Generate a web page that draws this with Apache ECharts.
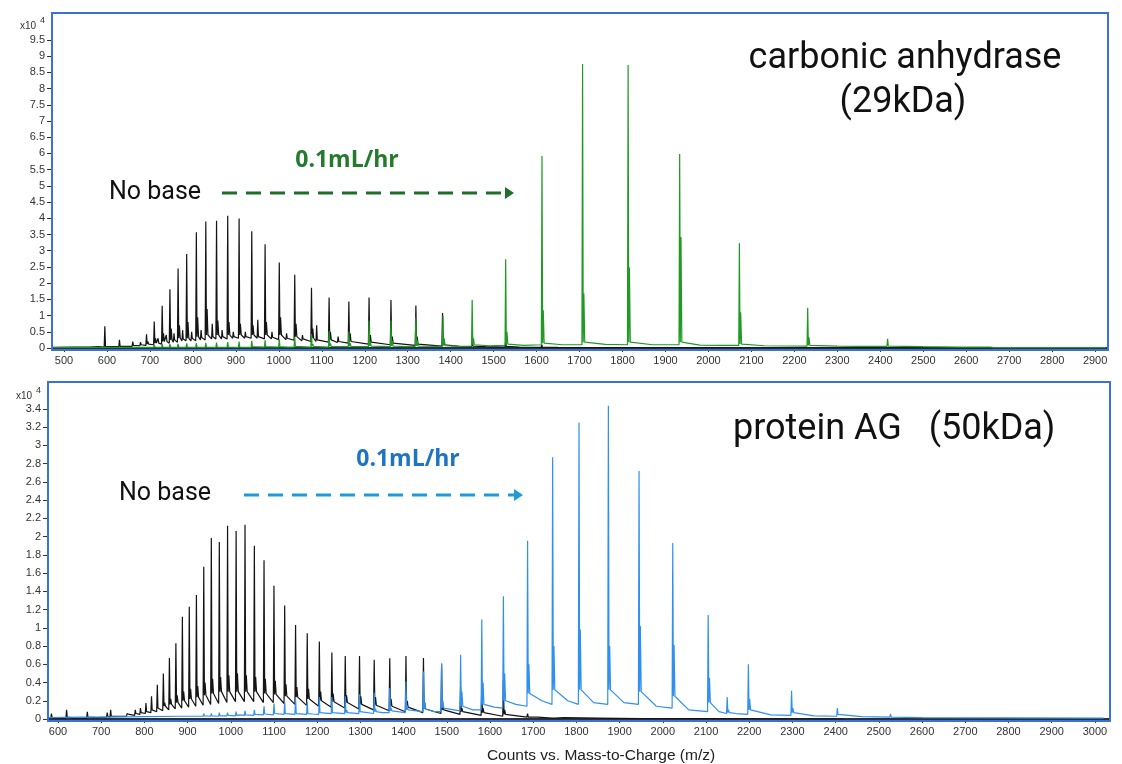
<!DOCTYPE html>
<html>
<head>
<meta charset="utf-8">
<script src="https://cdn.jsdelivr.net/npm/echarts@6/dist/echarts.min.js"></script>
<style>
  html, body { margin: 0; padding: 0; background: #ffffff; }
  #chart { width: 1122px; height: 764px; }
</style>
</head>
<body>
<div id="chart"></div>
<script>
// Intensities are in units of 10^4 counts.
// Peak rows: [m/z, apex, adduct spike, level just before, level just after]

// Carbonic anhydrase (29 kDa), no base
const caNoBasePeaks = [
  [595, 0.67, 0.08, 0.03, 0.05],
  [629, 0.25, 0.08, 0.04, 0.05],
  [660, 0.20, 0.10, 0.05, 0.08],
  [678, 0.18, 0.10, 0.07, 0.10],
  [692, 0.42, 0.20, 0.08, 0.12],
  [710, 0.82, 0.30, 0.10, 0.15],
  [719, 0.30, 0.20, 0.12, 0.15],
  [728.5, 1.30, 0.45, 0.12, 0.20],
  [738, 0.40, 0.25, 0.15, 0.20],
  [746.5, 1.81, 0.60, 0.15, 0.25],
  [756, 0.45, 0.30, 0.18, 0.25],
  [765.5, 2.45, 0.70, 0.18, 0.30],
  [776, 0.55, 0.30, 0.22, 0.28],
  [785.5, 2.90, 0.80, 0.22, 0.30],
  [797, 0.50, 0.35, 0.22, 0.30],
  [808, 3.57, 0.95, 0.22, 0.35],
  [819, 0.55, 0.35, 0.25, 0.32],
  [830, 3.90, 1.20, 0.25, 0.40],
  [845, 0.75, 0.40, 0.28, 0.35],
  [855, 3.92, 0.85, 0.28, 0.40],
  [868, 0.55, 0.35, 0.28, 0.35],
  [881, 4.08, 0.80, 0.28, 0.40],
  [894, 0.50, 0.35, 0.30, 0.35],
  [907.5, 3.99, 0.75, 0.30, 0.40],
  [922, 0.50, 0.35, 0.30, 0.35],
  [937, 3.60, 0.70, 0.30, 0.40],
  [951, 0.87, 0.35, 0.30, 0.35],
  [968, 3.20, 0.80, 0.28, 0.40],
  [984, 0.50, 0.35, 0.28, 0.33],
  [1001, 2.64, 0.95, 0.26, 0.40],
  [1018, 0.45, 0.32, 0.26, 0.30],
  [1037, 2.26, 0.75, 0.24, 0.35],
  [1055, 0.40, 0.30, 0.22, 0.28],
  [1076, 1.86, 0.60, 0.20, 0.30],
  [1088, 0.70, 0.30, 0.20, 0.25],
  [1117, 1.56, 0.50, 0.18, 0.25],
  [1138, 0.35, 0.25, 0.17, 0.20],
  [1163, 1.43, 0.45, 0.15, 0.20],
  [1210, 1.56, 0.40, 0.12, 0.18],
  [1261, 1.48, 0.35, 0.10, 0.15],
  [1319, 1.31, 0.35, 0.08, 0.12],
  [1381, 1.08, 0.30, 0.06, 0.10],
  [1450, 0.25, 0.10, 0.04, 0.06],
  [1528, 0.18, 0.08, 0.03, 0.05],
  [1612, 0.10, 0.05, 0.02, 0.03]
];
const caNoBaseBaseline = [
  [474, 0.02], [520, 0.03], [560, 0.03], [580, 0.04], [612, 0.04], [645, 0.05],
  [1420, 0.05], [1480, 0.04], [1560, 0.03], [1650, 0.02], [1750, 0.01],
  [1900, 0.01], [2100, 0.005], [2400, 0.005], [2660, 0.005]
];

// Carbonic anhydrase (29 kDa), 0.1 mL/hr base
const caBasePeaks = [
  [710, 0.10, 0.05, 0.02, 0.03],
  [728.5, 0.12, 0.05, 0.02, 0.03],
  [746.5, 0.12, 0.05, 0.02, 0.03],
  [765.5, 0.13, 0.05, 0.02, 0.03],
  [785.5, 0.14, 0.05, 0.02, 0.03],
  [808, 0.15, 0.06, 0.02, 0.03],
  [830, 0.16, 0.06, 0.02, 0.03],
  [855, 0.17, 0.06, 0.02, 0.03],
  [881, 0.18, 0.06, 0.02, 0.03],
  [907.5, 0.20, 0.07, 0.02, 0.03],
  [937, 0.22, 0.07, 0.02, 0.04],
  [968, 0.24, 0.08, 0.03, 0.04],
  [1001, 0.27, 0.08, 0.03, 0.04],
  [1037, 0.33, 0.10, 0.03, 0.05],
  [1076, 0.43, 0.12, 0.03, 0.05],
  [1117, 0.52, 0.14, 0.03, 0.05],
  [1163, 0.50, 0.15, 0.04, 0.05],
  [1210, 0.85, 0.20, 0.04, 0.06],
  [1261, 0.85, 0.22, 0.04, 0.06],
  [1319, 0.95, 0.25, 0.05, 0.06],
  [1382, 1.00, 0.28, 0.05, 0.07],
  [1450, 1.49, 0.30, 0.06, 0.10],
  [1528, 2.74, 0.50, 0.08, 0.12],
  [1612.5, 5.92, 1.16, 0.10, 0.15],
  [1707, 8.76, 1.68, 0.10, 0.18],
  [1813, 8.73, 2.48, 0.10, 0.18],
  [1933, 5.98, 3.42, 0.10, 0.18],
  [2072, 3.23, 1.10, 0.08, 0.12],
  [2231, 1.24, 0.33, 0.06, 0.08],
  [2417, 0.28, 0.10, 0.05, 0.06],
  [2637, 0.05, 0.03, 0.03, 0.03]
];
const caBaseBaseline = [
  [474, 0.01], [600, 0.02], [700, 0.02], [1020, 0.03], [1300, 0.04], [1420, 0.05],
  [1490, 0.07], [1570, 0.08], [1660, 0.10], [1760, 0.11], [1870, 0.10],
  [1980, 0.09], [2030, 0.08], [2130, 0.07], [2300, 0.06], [2350, 0.05],
  [2500, 0.04], [2580, 0.03], [2655, 0.03], [2665, 0.01], [2925, 0.01]
];

// Protein AG (50 kDa), no base
const agNoBasePeaks = [
  [585, 0.06, 0.02, 0.01, 0.01],
  [620, 0.10, 0.03, 0.01, 0.02],
  [668, 0.08, 0.02, 0.01, 0.02],
  [714, 0.07, 0.03, 0.02, 0.03],
  [722, 0.10, 0.04, 0.02, 0.03],
  [760, 0.06, 0.04, 0.03, 0.05],
  [779, 0.10, 0.06, 0.04, 0.06],
  [791, 0.12, 0.07, 0.05, 0.07],
  [803.7, 0.175, 0.09, 0.06, 0.08],
  [816.6, 0.25, 0.11, 0.07, 0.10],
  [830, 0.376, 0.14, 0.08, 0.12],
  [844, 0.50, 0.18, 0.09, 0.14],
  [858, 0.67, 0.22, 0.10, 0.16],
  [873, 0.83, 0.26, 0.11, 0.18],
  [888, 1.12, 0.30, 0.12, 0.20],
  [904, 1.23, 0.33, 0.13, 0.22],
  [920.5, 1.36, 0.36, 0.14, 0.24],
  [937.5, 1.67, 0.40, 0.15, 0.26],
  [955, 1.985, 0.44, 0.16, 0.28],
  [973.5, 1.94, 0.46, 0.17, 0.30],
  [992.6, 2.12, 0.48, 0.18, 0.30],
  [1012.4, 2.06, 0.50, 0.19, 0.30],
  [1033, 2.13, 0.48, 0.19, 0.30],
  [1054.6, 1.90, 0.46, 0.19, 0.30],
  [1077, 1.74, 0.44, 0.18, 0.28],
  [1100, 1.46, 0.42, 0.18, 0.27],
  [1124.8, 1.245, 0.38, 0.17, 0.25],
  [1150, 1.03, 0.35, 0.16, 0.24],
  [1177, 0.94, 0.33, 0.15, 0.22],
  [1205, 0.85, 0.30, 0.14, 0.20],
  [1234, 0.73, 0.28, 0.13, 0.19],
  [1265, 0.69, 0.26, 0.12, 0.18],
  [1298, 0.69, 0.25, 0.11, 0.16],
  [1332, 0.65, 0.24, 0.10, 0.15],
  [1368, 0.665, 0.22, 0.09, 0.14],
  [1405.5, 0.69, 0.20, 0.08, 0.13],
  [1446, 0.67, 0.18, 0.07, 0.11],
  [1488, 0.60, 0.15, 0.06, 0.10],
  [1532, 0.35, 0.12, 0.05, 0.08],
  [1581, 0.36, 0.12, 0.04, 0.07],
  [1631, 0.43, 0.10, 0.03, 0.05],
  [1687, 0.06, 0.03, 0.02, 0.02],
  [1745, 0.02, 0.01, 0.01, 0.01]
];
const agNoBaseBaseline = [
  [578, 0.01], [600, 0.01], [640, 0.01], [690, 0.015], [740, 0.03],
  [1710, 0.02], [1770, 0.015], [1850, 0.01], [1950, 0.005], [2100, 0.005], [2420, 0.0]
];

// Protein AG (50 kDa), 0.1 mL/hr base
const agBasePeaks = [
  [937.5, 0.06, 0.04, 0.03, 0.035],
  [955, 0.06, 0.04, 0.03, 0.035],
  [973.5, 0.07, 0.04, 0.03, 0.035],
  [992.6, 0.07, 0.04, 0.035, 0.04],
  [1012.4, 0.08, 0.05, 0.035, 0.04],
  [1033, 0.09, 0.05, 0.04, 0.045],
  [1054.6, 0.10, 0.05, 0.04, 0.05],
  [1077, 0.14, 0.06, 0.045, 0.055],
  [1100, 0.17, 0.07, 0.045, 0.06],
  [1124.8, 0.19, 0.08, 0.05, 0.06],
  [1150, 0.22, 0.08, 0.05, 0.06],
  [1177, 0.19, 0.08, 0.05, 0.06],
  [1205, 0.24, 0.09, 0.05, 0.07],
  [1234, 0.24, 0.09, 0.06, 0.07],
  [1265, 0.25, 0.10, 0.06, 0.07],
  [1298, 0.27, 0.10, 0.06, 0.08],
  [1332, 0.29, 0.11, 0.06, 0.08],
  [1368, 0.34, 0.12, 0.07, 0.09],
  [1405.5, 0.41, 0.15, 0.07, 0.10],
  [1446, 0.52, 0.18, 0.08, 0.11],
  [1488, 0.61, 0.20, 0.08, 0.12],
  [1532, 0.705, 0.30, 0.09, 0.14],
  [1581, 1.09, 0.40, 0.10, 0.16],
  [1631, 1.345, 0.50, 0.12, 0.20],
  [1687, 1.955, 0.60, 0.14, 0.28],
  [1745, 2.87, 0.80, 0.16, 0.32],
  [1806, 3.25, 0.98, 0.16, 0.32],
  [1874, 3.435, 0.80, 0.16, 0.32],
  [1945, 2.72, 1.02, 0.16, 0.30],
  [2023, 1.93, 0.81, 0.12, 0.25],
  [2105, 1.14, 0.45, 0.08, 0.18],
  [2149, 0.24, 0.10, 0.06, 0.07],
  [2198, 0.60, 0.22, 0.05, 0.10],
  [2298, 0.31, 0.12, 0.04, 0.07],
  [2404, 0.12, 0.06, 0.03, 0.05],
  [2527, 0.055, 0.03, 0.02, 0.02]
];
const agBaseBaseline = [
  [578, 0.015], [650, 0.02], [720, 0.02], [800, 0.025], [880, 0.03], [1020, 0.045],
  [1190, 0.055], [1350, 0.07], [1470, 0.08], [1560, 0.10], [1610, 0.13],
  [1660, 0.16], [1720, 0.20], [1780, 0.20], [1840, 0.18], [1910, 0.18],
  [1985, 0.14], [2060, 0.10], [2130, 0.08], [2170, 0.06], [2250, 0.045],
  [2350, 0.035], [2460, 0.025], [2600, 0.015], [2800, 0.012], [3020, 0.01]
];

// Axis tick values
const caTicksX = [500, 600, 700, 800, 900, 1000, 1100, 1200, 1300, 1400, 1500, 1600, 1700,
  1800, 1900, 2000, 2100, 2200, 2300, 2400, 2500, 2600, 2700, 2800, 2900];
const caTicksY = [0, 0.5, 1, 1.5, 2, 2.5, 3, 3.5, 4, 4.5, 5, 5.5, 6, 6.5, 7, 7.5, 8, 8.5, 9, 9.5];
const agTicksX = [600, 700, 800, 900, 1000, 1100, 1200, 1300, 1400, 1500, 1600, 1700, 1800,
  1900, 2000, 2100, 2200, 2300, 2400, 2500, 2600, 2700, 2800, 2900, 3000];
const agTicksY = [0, 0.2, 0.4, 0.6, 0.8, 1, 1.2, 1.4, 1.6, 1.8, 2, 2.2, 2.4, 2.6, 2.8, 3, 3.2, 3.4];

// Turn a peak table plus baseline readings into a profile trace.
function buildTrace(peaks, baseline) {
  const pts = [];
  peaks.forEach(([mz, apex, adduct, before, after]) => {
    pts.push([mz - 1.5, before], [mz, apex], [mz + 1.5, after], [mz + 3, adduct], [mz + 5, after]);
  });
  baseline.forEach(([mz, v]) => {
    const insidePeak = peaks.some(p => mz > p[0] - 3 && mz < p[0] + 7);
    if (!insidePeak) pts.push([mz, v]);
  });
  return pts.sort((a, b) => a[0] - b[0]);
}

const AXIS_FONT = 'Liberation Sans, Arial, sans-serif';
const TEXT_FONT = 'Roboto, sans-serif';

function xAxisFor(gridIndex, min, max, ticks) {
  return {
    gridIndex, type: 'value', min, max,
    axisLine: { show: true, onZero: false, lineStyle: { color: '#2e3038', width: 2 } },
    axisTick: { show: true, customValues: ticks, length: 4, lineStyle: { color: '#333' } },
    axisLabel: { customValues: ticks, fontSize: 11, color: '#333', margin: 7,
      fontFamily: AXIS_FONT, formatter: v => String(v) },
    splitLine: { show: false }
  };
}
function yAxisFor(gridIndex, max, ticks) {
  return {
    gridIndex, type: 'value', min: 0, max,
    axisLine: { show: true, lineStyle: { color: '#555a66', width: 1 } },
    axisTick: { show: true, customValues: ticks, length: 5, lineStyle: { color: '#333' } },
    axisLabel: { customValues: ticks, fontSize: 11, color: '#333', margin: 7,
      fontFamily: AXIS_FONT, formatter: v => String(v) },
    splitLine: { show: false }
  };
}
function lineSeries(name, idx, data, color) {
  return {
    name, type: 'line', xAxisIndex: idx, yAxisIndex: idx, data,
    showSymbol: false, symbol: 'none', animation: false, silent: true,
    lineStyle: { color, width: 1.2 }
  };
}
function label(text, x, y, size, color, opts = {}) {
  return {
    type: 'text', x, y, z: 100,
    style: {
      text, fill: color,
      font: (opts.weight || 'normal') + ' ' + size + 'px ' + (opts.family || TEXT_FONT),
      align: opts.align || 'left', verticalAlign: 'middle',
      textAlign: opts.align || 'left', textVerticalAlign: 'middle'
    }
  };
}
function dashedArrow(x1, x2, y, color) {
  return [
    { type: 'line', z: 100, shape: { x1, y1: y, x2: x2 - 8, y2: y },
      style: { stroke: color, lineWidth: 3, lineDash: [15, 9] } },
    { type: 'polygon', z: 100, shape: { points: [[x2 - 9, y - 6], [x2, y], [x2 - 9, y + 6]] },
      style: { fill: color } }
  ];
}

const chart = echarts.init(document.getElementById('chart'), null, { renderer: 'canvas' });
chart.setOption({
  backgroundColor: '#ffffff',
  animation: false,
  grid: [
    { left: 52, top: 13, width: 1056, height: 335, show: false },
    { left: 48, top: 382, width: 1062, height: 337, show: false }
  ],
  xAxis: [
    xAxisFor(0, 472, 2930, caTicksX),
    xAxisFor(1, 577, 3035, agTicksX)
  ],
  yAxis: [
    yAxisFor(0, 10.33, caTicksY),
    yAxisFor(1, 3.695, agTicksY)
  ],
  series: [
    lineSeries('No base', 0, buildTrace(caNoBasePeaks, caNoBaseBaseline), '#141414'),
    lineSeries('0.1mL/hr', 0, buildTrace(caBasePeaks, caBaseBaseline), '#209a24'),
    lineSeries('No base', 1, buildTrace(agNoBasePeaks, agNoBaseBaseline), '#141414'),
    lineSeries('0.1mL/hr', 1, buildTrace(agBasePeaks, agBaseBaseline), '#2f90f2')
  ],
  graphic: [
    // panel frames
    { type: 'rect', z: 90, shape: { x: 52, y: 13, width: 1056, height: 337 },
      style: { fill: 'none', stroke: '#3b72d9', lineWidth: 2 } },
    { type: 'rect', z: 90, shape: { x: 48, y: 382, width: 1062, height: 339 },
      style: { fill: 'none', stroke: '#3b72d9', lineWidth: 2 } },
    // scale factors
    label('x10', 20, 26, 10, '#333', { family: AXIS_FONT }),
    label('4', 40, 21, 9, '#333', { family: AXIS_FONT }),
    label('x10', 16, 396, 10, '#333', { family: AXIS_FONT }),
    label('4', 36, 391, 9, '#333', { family: AXIS_FONT }),
    // top panel annotations
    label('carbonic anhydrase', 905, 59, 36, '#111', { align: 'center' }),
    label('(29kDa)', 903, 103, 36, '#111', { align: 'center' }),
    label('0.1mL/hr', 347, 160, 23, '#237a2c', { align: 'center', weight: 'bold', family: 'Open Sans, sans-serif' }),
    label('No base', 109, 193, 25, '#111'),
    ...dashedArrow(222, 514, 193, '#1f6e2a'),
    // bottom panel annotations
    label('protein AG   (50kDa)', 733, 430, 36, '#111'),
    label('0.1mL/hr', 408, 459, 23, '#1c74c2', { align: 'center', weight: 'bold', family: 'Open Sans, sans-serif' }),
    label('No base', 119, 494, 25, '#111'),
    ...dashedArrow(244, 523, 495, '#1f9bd7'),
    // axis title
    label('Counts vs. Mass-to-Charge (m/z)', 601, 756, 15.5, '#222', { align: 'center', family: AXIS_FONT })
  ]
});
</script>
</body>
</html>
